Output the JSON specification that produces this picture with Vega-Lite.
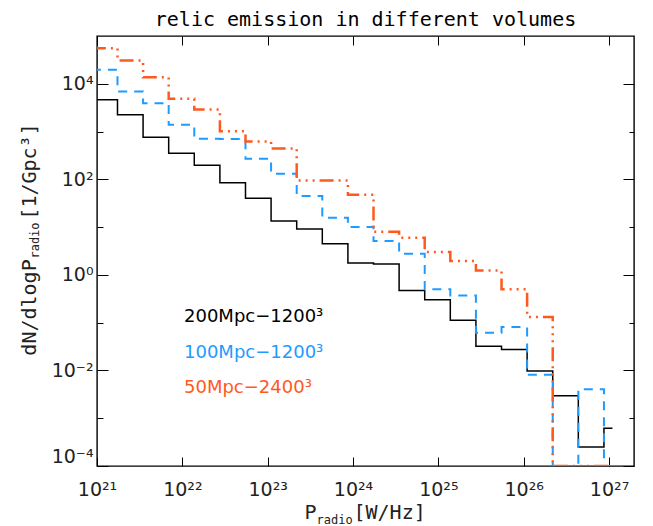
{
  "$schema": "https://vega.github.io/schema/vega-lite/v6.json",
  "width": 537,
  "height": 430,
  "autosize": "none",
  "padding": {"left": 97, "top": 36, "right": 19, "bottom": 60},
  "background": "white",
  "title": {
    "text": "relic emission in different volumes",
    "font": "DejaVu Sans Mono",
    "fontSize": 20,
    "fontWeight": "normal",
    "color": "#000000",
    "anchor": "middle",
    "baseline": "alphabetic",
    "offset": 11,
    "dy": 21
  },
  "config": {
    "view": {"stroke": "#000000", "strokeWidth": 1.4},
    "axis": {
      "grid": false,
      "domain": false,
      "labelFont": "DejaVu Sans",
      "labelFontSize": 19,
      "labelColor": "#222222",
      "tickColor": "#000000",
      "tickWidth": 1,
      "labelOverlap": false,
      "titleFont": "DejaVu Sans Mono",
      "titleFontWeight": "normal",
      "titleColor": "#222222"
    }
  },
  "data": {
    "values": [
      {"series": "200Mpc−1200³", "p": 8.71e20, "dn": 4630},
      {"series": "200Mpc−1200³", "p": 1.738e21, "dn": 2240},
      {"series": "200Mpc−1200³", "p": 3.467e21, "dn": 764},
      {"series": "200Mpc−1200³", "p": 6.918e21, "dn": 353},
      {"series": "200Mpc−1200³", "p": 1.380e22, "dn": 198},
      {"series": "200Mpc−1200³", "p": 2.754e22, "dn": 84.9},
      {"series": "200Mpc−1200³", "p": 5.495e22, "dn": 40.4},
      {"series": "200Mpc−1200³", "p": 1.096e23, "dn": 13.4},
      {"series": "200Mpc−1200³", "p": 2.188e23, "dn": 9.08},
      {"series": "200Mpc−1200³", "p": 4.365e23, "dn": 4.5},
      {"series": "200Mpc−1200³", "p": 8.710e23, "dn": 1.77},
      {"series": "200Mpc−1200³", "p": 1.738e24, "dn": 1.68},
      {"series": "200Mpc−1200³", "p": 3.467e24, "dn": 0.474},
      {"series": "200Mpc−1200³", "p": 6.918e24, "dn": 0.303},
      {"series": "200Mpc−1200³", "p": 1.380e25, "dn": 0.112},
      {"series": "200Mpc−1200³", "p": 2.754e25, "dn": 0.0319},
      {"series": "200Mpc−1200³", "p": 5.495e25, "dn": 0.0276},
      {"series": "200Mpc−1200³", "p": 1.096e26, "dn": 0.0097},
      {"series": "200Mpc−1200³", "p": 2.188e26, "dn": 0.00297},
      {"series": "200Mpc−1200³", "p": 4.365e26, "dn": 0.000249},
      {"series": "200Mpc−1200³", "p": 8.710e26, "dn": 0.000615},
      {"series": "200Mpc−1200³", "p": 1.096e27, "dn": 0.000615},

      {"series": "100Mpc−1200³", "p": 8.71e20, "dn": 19600},
      {"series": "100Mpc−1200³", "p": 1.738e21, "dn": 6900},
      {"series": "100Mpc−1200³", "p": 3.467e21, "dn": 3930},
      {"series": "100Mpc−1200³", "p": 6.918e21, "dn": 1390},
      {"series": "100Mpc−1200³", "p": 1.380e22, "dn": 707},
      {"series": "100Mpc−1200³", "p": 2.754e22, "dn": 700},
      {"series": "100Mpc−1200³", "p": 5.495e22, "dn": 270},
      {"series": "100Mpc−1200³", "p": 1.096e23, "dn": 131},
      {"series": "100Mpc−1200³", "p": 2.188e23, "dn": 44.6},
      {"series": "100Mpc−1200³", "p": 4.365e23, "dn": 15.7},
      {"series": "100Mpc−1200³", "p": 8.710e23, "dn": 10.0},
      {"series": "100Mpc−1200³", "p": 1.738e24, "dn": 5.09},
      {"series": "100Mpc−1200³", "p": 3.467e24, "dn": 2.78},
      {"series": "100Mpc−1200³", "p": 6.918e24, "dn": 0.498},
      {"series": "100Mpc−1200³", "p": 1.380e25, "dn": 0.372},
      {"series": "100Mpc−1200³", "p": 2.754e25, "dn": 0.0618},
      {"series": "100Mpc−1200³", "p": 5.495e25, "dn": 0.0809},
      {"series": "100Mpc−1200³", "p": 1.096e26, "dn": 0.00816},
      {"series": "100Mpc−1200³", "p": 2.188e26, "dn": 0.0001},
      {"series": "100Mpc−1200³", "p": 4.365e26, "dn": 0.00403},
      {"series": "100Mpc−1200³", "p": 8.710e26, "dn": 0.0001},
      {"series": "100Mpc−1200³", "p": 1.096e27, "dn": 0.0001},

      {"series": "50Mpc−2400³", "p": 8.71e20, "dn": 55600},
      {"series": "50Mpc−2400³", "p": 1.738e21, "dn": 30700},
      {"series": "50Mpc−2400³", "p": 3.467e21, "dn": 13700},
      {"series": "50Mpc−2400³", "p": 6.918e21, "dn": 4850},
      {"series": "50Mpc−2400³", "p": 1.380e22, "dn": 2900},
      {"series": "50Mpc−2400³", "p": 2.754e22, "dn": 1020},
      {"series": "50Mpc−2400³", "p": 5.495e22, "dn": 621},
      {"series": "50Mpc−2400³", "p": 1.096e23, "dn": 443},
      {"series": "50Mpc−2400³", "p": 2.188e23, "dn": 94.8},
      {"series": "50Mpc−2400³", "p": 4.365e23, "dn": 95},
      {"series": "50Mpc−2400³", "p": 8.710e23, "dn": 47.6},
      {"series": "50Mpc−2400³", "p": 1.738e24, "dn": 8.0},
      {"series": "50Mpc−2400³", "p": 3.467e24, "dn": 6.0},
      {"series": "50Mpc−2400³", "p": 6.918e24, "dn": 3.0},
      {"series": "50Mpc−2400³", "p": 1.380e25, "dn": 1.95},
      {"series": "50Mpc−2400³", "p": 2.754e25, "dn": 1.24},
      {"series": "50Mpc−2400³", "p": 5.495e25, "dn": 0.498},
      {"series": "50Mpc−2400³", "p": 1.096e26, "dn": 0.131},
      {"series": "50Mpc−2400³", "p": 2.188e26, "dn": 0.0001},
      {"series": "50Mpc−2400³", "p": 4.365e26, "dn": 0.0001},
      {"series": "50Mpc−2400³", "p": 8.710e26, "dn": 0.0001},
      {"series": "50Mpc−2400³", "p": 1.096e27, "dn": 0.0001}
    ]
  },
  "encoding": {
    "x": {
      "field": "p",
      "type": "quantitative",
      "scale": {"type": "log", "domain": [1e21, 1.96e27], "nice": false}
    },
    "y": {
      "field": "dn",
      "type": "quantitative",
      "scale": {"type": "log", "domain": [0.0001, 100000], "nice": false}
    },
    "color": {
      "field": "series",
      "type": "nominal",
      "scale": {
        "domain": ["200Mpc−1200³", "100Mpc−1200³", "50Mpc−2400³"],
        "range": ["#000000", "#1e9bff", "#ff5a1e"]
      },
      "legend": {
        "orient": "none",
        "legendX": 69,
        "legendY": 272,
        "title": null,
        "symbolSize": 0,
        "symbolStrokeWidth": 0,
        "symbolOpacity": 0,
        "labelOffset": 0,
        "padding": 0,
        "rowPadding": 17.5,
        "labelFont": "DejaVu Sans",
        "labelFontSize": 18,
        "labelLimit": 300,
        "encode": {
          "labels": {"update": {"fill": {"scale": "color", "field": "value"}}}
        }
      }
    },
    "strokeDash": {
      "field": "series",
      "type": "nominal",
      "scale": {
        "domain": ["200Mpc−1200³", "100Mpc−1200³", "50Mpc−2400³"],
        "range": [[1, 0], [9, 7], [14, 5, 2, 5, 2, 5, 2, 5]]
      },
      "legend": null
    }
  },
  "layer": [
    {
      "transform": [{"filter": "datum.series === '200Mpc−1200³'"}],
      "mark": {"type": "line", "interpolate": "step-after", "strokeWidth": 1.5, "clip": true},
      "encoding": {
        "x": {
          "field": "p",
          "type": "quantitative",
          "axis": {
            "orient": "bottom",
            "values": [1e21, 1e22, 1e23, 1e24, 1e25, 1e26, 1e27],
            "labelExpr": "'10²' + substring('⁰¹²³⁴⁵⁶⁷⁸⁹', round(log(datum.value)/LN10) - 20, round(log(datum.value)/LN10) - 19)",
            "tickSize": -9,
            "labelPadding": 23,
            "labelFlush": false,
            "title": "P",
            "titleFontSize": 20,
            "titleAngle": 0,
            "titleAlign": "left",
            "titleBaseline": "alphabetic",
            "titleX": 207,
            "titleY": 52
          }
        },
        "y": {
          "field": "dn",
          "type": "quantitative",
          "axis": {
            "orient": "left",
            "values": [0.0001, 0.001, 0.01, 0.1, 1, 10, 100, 1000, 10000],
            "labelExpr": "round(log(datum.value)/LN10) % 2 != 0 ? '' : '10' + (datum.value < 1 ? '⁻' : '') + substring('⁰¹²³⁴⁵⁶⁷⁸⁹', abs(round(log(datum.value)/LN10)), abs(round(log(datum.value)/LN10)) + 1)",
            "tickSize": {"condition": {"test": "round(log(datum.value)/LN10) % 2 == 0", "value": -11}, "value": -6},
            "labelPadding": 15,
            "labelFlush": true,
            "title": "dN/dlogP",
            "titleFontSize": 20,
            "titleAngle": -90,
            "titleAlign": "center",
            "titleBaseline": "alphabetic",
            "titleX": -62,
            "titleY": 271
          }
        }
      }
    },
    {
      "transform": [{"filter": "datum.series === '100Mpc−1200³'"}],
      "mark": {"type": "line", "interpolate": "step-after", "strokeWidth": 2, "clip": true},
      "encoding": {
        "x": {
          "field": "p",
          "type": "quantitative",
          "axis": {
            "orient": "top",
            "values": [1e21, 1e22, 1e23, 1e24, 1e25, 1e26, 1e27],
            "labels": false,
            "tickSize": -9,
            "title": "[W/Hz]",
            "titleFontSize": 20,
            "titleAngle": 0,
            "titleAlign": "left",
            "titleBaseline": "alphabetic",
            "titleX": 256,
            "titleY": 482
          }
        },
        "y": {
          "field": "dn",
          "type": "quantitative",
          "axis": {
            "orient": "right",
            "values": [0.0001, 0.001, 0.01, 0.1, 1, 10, 100, 1000, 10000],
            "labels": false,
            "tickSize": {"condition": {"test": "round(log(datum.value)/LN10) % 2 == 0", "value": -11}, "value": -5},
            "title": "[1/Gpc³]",
            "titleFontSize": 20,
            "titleAngle": -90,
            "titleAlign": "center",
            "titleBaseline": "alphabetic",
            "titleX": -599,
            "titleY": 135
          }
        }
      }
    },
    {
      "transform": [{"filter": "datum.series === '50Mpc−2400³'"}],
      "mark": {"type": "line", "interpolate": "step-after", "strokeWidth": 2.5, "clip": true},
      "encoding": {
        "x": {
          "field": "p",
          "type": "quantitative",
          "axis": {
            "orient": "bottom",
            "labels": false,
            "ticks": false,
            "title": "radio",
            "titleFontSize": 12,
            "titleAngle": 0,
            "titleAlign": "left",
            "titleBaseline": "alphabetic",
            "titleX": 219,
            "titleY": 57
          }
        },
        "y": {
          "field": "dn",
          "type": "quantitative",
          "axis": {
            "orient": "left",
            "labels": false,
            "ticks": false,
            "title": "radio",
            "titleFontSize": 12,
            "titleAngle": -90,
            "titleAlign": "center",
            "titleBaseline": "alphabetic",
            "titleX": -58.5,
            "titleY": 204
          }
        }
      }
    }
  ],
  "resolve": {"axis": {"x": "independent", "y": "independent"}}
}
